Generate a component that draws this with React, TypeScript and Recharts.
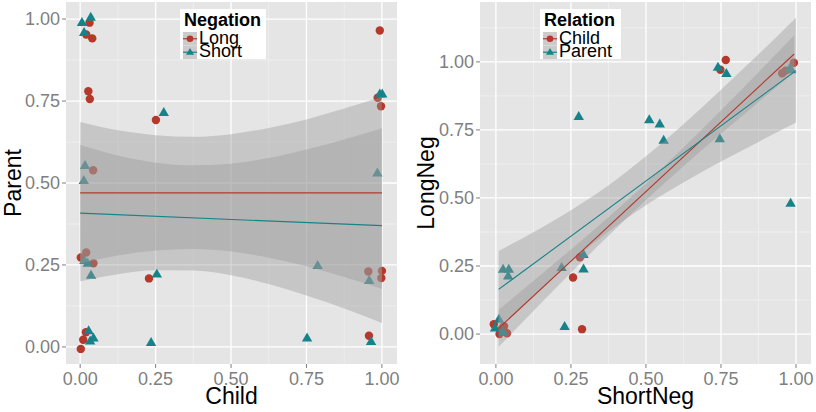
import React from "react";
import { ComposedChart, Scatter, Area, Line, XAxis, YAxis, CartesianGrid, Legend, Label } from "recharts";

const RED = "#B5382B";
const TEAL = "#16838A";
const FONT = "'Liberation Sans', Arial, sans-serif";

const majorTicks = [0, 0.25, 0.5, 0.75, 1];
const minorX = [0.125, 0.375, 0.625, 0.875];
const minorYLeft = [0.125, 0.375, 0.625, 0.875];
const minorYRight = [0.125, 0.375, 0.625, 0.875, 1.125];

// ---- left panel: Child vs Parent, coloured by Negation ----
const negationNames = ["Long", "Short"];

const longPoints = [
  [0.031, 0.989], [0.02, 0.953], [0.04, 0.941], [0.027, 0.78], [0.032, 0.756], [0.043, 0.539],
  [0.251, 0.692], [0.993, 0.965], [0.986, 0.76], [0.997, 0.734], [0.002, 0.273], [0.02, 0.288],
  [0.044, 0.255], [0.228, 0.209], [0.955, 0.23], [1.0, 0.232], [0.998, 0.21], [0.002, -0.006],
  [0.01, 0.022], [0.019, 0.045], [0.957, 0.034],
];
const shortPoints = [
  [0.006, 0.989], [0.035, 1.005], [0.013, 0.959], [0.016, 0.553], [0.012, 0.507], [0.277, 0.715],
  [0.993, 0.771], [1.001, 0.771], [0.985, 0.53], [0.014, 0.263], [0.025, 0.255], [0.036, 0.218],
  [0.254, 0.222], [0.787, 0.248], [0.958, 0.202], [0.028, 0.049], [0.033, 0.018], [0.044, 0.027],
  [0.235, 0.013], [0.752, 0.027], [0.964, 0.016],
];

// smoother output
const leftBandX = [0, 0.125, 0.25, 0.375, 0.5, 0.625, 0.75, 0.875, 1];
const longLow = [0.254, 0.279, 0.294, 0.299, 0.291, 0.272, 0.246, 0.213, 0.177];
const longHigh = [0.686, 0.661, 0.646, 0.641, 0.649, 0.668, 0.694, 0.727, 0.763];
const shortLow = [0.2, 0.222, 0.234, 0.233, 0.219, 0.192, 0.157, 0.117, 0.073];
const shortHigh = [0.616, 0.584, 0.562, 0.554, 0.559, 0.576, 0.602, 0.633, 0.667];
const longFit = [[0, 0.47], [1, 0.47]];
const shortFit = [[0, 0.408], [1, 0.37]];

// ---- right panel: ShortNeg vs LongNeg, coloured by Relation ----
const relationNames = ["Child", "Parent"];

const childPoints = [
  [0.748, 0.971], [0.766, 1.007], [0.954, 0.958], [0.966, 0.968], [0.993, 0.997], [0.28, 0.282],
  [0.257, 0.208], [0.287, 0.018], [-0.007, 0.036], [0.012, 0.0], [0.021, 0.021], [0.029, 0.009],
  [0.037, 0.003], [0.027, 0.029], [0.018, 0.008],
];
const parentPoints = [
  [0.276, 0.799], [0.511, 0.787], [0.546, 0.771], [0.559, 0.712], [0.74, 0.98], [0.768, 0.957],
  [0.746, 0.717], [0.979, 0.974], [0.984, 0.971], [0.982, 0.48], [0.024, 0.238], [0.043, 0.238],
  [0.041, 0.213], [0.219, 0.244], [0.292, 0.292], [0.292, 0.239], [0.229, 0.027], [-0.003, 0.022],
  [0.01, 0.054], [0.023, 0.008],
];

const childBandX = [0.009, 0.125, 0.25, 0.375, 0.5, 0.625, 0.75, 0.875, 0.994];
const childLow = [-0.047, 0.085, 0.225, 0.361, 0.493, 0.617, 0.736, 0.852, 0.961];
const childHigh = [0.089, 0.195, 0.311, 0.429, 0.553, 0.685, 0.822, 0.962, 1.097];
const parentBandX = [0.009, 0.125, 0.25, 0.375, 0.5, 0.625, 0.75, 0.875, 1];
const parentLow = [0.023, 0.142, 0.265, 0.376, 0.473, 0.557, 0.634, 0.706, 0.777];
const parentHigh = [0.305, 0.374, 0.455, 0.546, 0.653, 0.771, 0.898, 1.028, 1.162];
const childFit = [[0.009, 0.021], [0.994, 1.029]];
const parentFit = [[0.009, 0.164], [1, 0.968]];

const toPoints = (pairs: number[][]) => pairs.map(([x, y]) => ({ x, y }));
const toBand = (xs: number[], lo: number[], hi: number[]) => xs.map((x, i) => ({ x, band: [lo[i], hi[i]] }));

const dotShape = (color: string) => (p: any) => <circle cx={p.cx} cy={p.cy} r={4.2} fill={color} />;
const triShape = (color: string) => (p: any) => (
  <polygon
    points={`${p.cx},${p.cy - 5.6} ${p.cx - 5.2},${p.cy + 3.4} ${p.cx + 5.2},${p.cy + 3.4}`}
    fill={color}
  />
);

function KeyBox({ title, names }: { title: string; names: string[] }) {
  const w = title === "Negation" ? 86 : 81;
  return (
    <svg width={w} height={50} style={{ display: "block", fontFamily: FONT, overflow: "visible" }}>
      <rect x={0} y={0} width={w} height={50} fill="#ffffff" />
      <text x={4} y={17} fontSize={18} fontWeight="bold" fill="#000">{title}</text>
      {names.map((n, i) => {
        const top = 23 + i * 13.5;
        const cy = top + 6.75;
        const color = i === 0 ? RED : TEAL;
        return (
          <g key={n}>
            <rect x={3} y={top} width={14} height={13.5} fill="#CBCBCB" />
            <line x1={3} x2={17} y1={cy} y2={cy} stroke={color} strokeWidth={1.2} />
            {i === 0 ? (
              <circle cx={10} cy={cy} r={3.3} fill={color} />
            ) : (
              <polygon points={`10,${cy - 4.2} 6,${cy + 2.6} 14,${cy + 2.6}`} fill={color} />
            )}
            <text x={19} y={top + 11.5} fontSize={18} fill="#000">{n}</text>
          </g>
        );
      })}
    </svg>
  );
}

type PanelProps = {
  xDomain: number[];
  yDomain: number[];
  yMinor: number[];
  yAxisWidth: number;
  marginRight: number;
  xTitle: string;
  yTitle: string;
  yTitleX: number;
  pointsA: number[][];
  pointsB: number[][];
  bandA: { x: number; band: number[] }[];
  bandB: { x: number; band: number[] }[];
  fitA: number[][];
  fitB: number[][];
  legendTitle: string;
  legendNames: string[];
  legendLeft: number;
};

function Panel(p: PanelProps) {
  const tick = { fill: "#7F7F7F", fontSize: 18, fontFamily: FONT };
  return (
    <ComposedChart width={408} height={412} margin={{ top: 2, right: p.marginRight, bottom: 0, left: 0 }}>
      <CartesianGrid fill="#E5E5E5" stroke="#F2F2F2" strokeWidth={0.7} verticalValues={minorX} horizontalValues={p.yMinor} />
      <CartesianGrid stroke="#FFFFFF" strokeWidth={1.3} verticalValues={majorTicks} horizontalValues={majorTicks} />
      <XAxis
        type="number"
        dataKey="x"
        domain={p.xDomain}
        allowDataOverflow
        ticks={majorTicks}
        tickFormatter={(v: number) => v.toFixed(2)}
        axisLine={false}
        tickLine={{ stroke: "#7F7F7F" }}
        tickSize={4}
        tickMargin={4}
        height={48}
        tick={tick}
      >
        <Label
          content={({ viewBox }: any) => (
            <text x={viewBox.x + viewBox.width / 2} y={viewBox.y + 40} textAnchor="middle" fontSize={23} fontFamily={FONT} fill="#000">
              {p.xTitle}
            </text>
          )}
        />
      </XAxis>
      <YAxis
        type="number"
        dataKey="y"
        domain={p.yDomain}
        allowDataOverflow
        ticks={majorTicks}
        tickFormatter={(v: number) => v.toFixed(2)}
        axisLine={false}
        tickLine={{ stroke: "#7F7F7F" }}
        tickSize={4}
        tickMargin={2}
        width={p.yAxisWidth}
        tick={tick}
      >
        <Label
          content={({ viewBox }: any) => {
            const cx = viewBox.x + p.yTitleX;
            const cy = viewBox.y + viewBox.height / 2;
            return (
              <text x={cx} y={cy} transform={`rotate(-90 ${cx} ${cy})`} textAnchor="middle" fontSize={23} fontFamily={FONT} fill="#000">
                {p.yTitle}
              </text>
            );
          }}
        />
      </YAxis>
      <Legend
        layout="vertical"
        align="center"
        verticalAlign="middle"
        wrapperStyle={{ position: "absolute", top: 9, left: p.legendLeft, width: "auto", height: "auto" }}
        content={() => <KeyBox title={p.legendTitle} names={p.legendNames} />}
      />
      <Scatter data={toPoints(p.pointsA)} dataKey="y" shape={dotShape(RED)} isAnimationActive={false} zIndex={50} />
      <Scatter data={toPoints(p.pointsB)} dataKey="y" shape={triShape(TEAL)} isAnimationActive={false} zIndex={50} />
      <Area data={p.bandA} dataKey="band" type="monotone" stroke="none" fill="#999999" fillOpacity={0.4} isAnimationActive={false} />
      <Area data={p.bandB} dataKey="band" type="monotone" stroke="none" fill="#999999" fillOpacity={0.4} isAnimationActive={false} />
      <Line data={toPoints(p.fitA)} dataKey="y" stroke={RED} strokeWidth={1.1} dot={false} isAnimationActive={false} />
      <Line data={toPoints(p.fitB)} dataKey="y" stroke={TEAL} strokeWidth={1.1} dot={false} isAnimationActive={false} />
    </ComposedChart>
  );
}

export default function App() {
  return (
    <div style={{ position: "absolute", left: 0, top: 0, width: 816, height: 412, background: "#fff", display: "flex" }}>
      <Panel
        xDomain={[-0.047, 1.05]}
        yDomain={[-0.052, 1.052]}
        yMinor={minorYLeft}
        yAxisWidth={66}
        marginRight={11}
        xTitle="Child"
        yTitle="Parent"
        yTitleX={20.5}
        pointsA={longPoints}
        pointsB={shortPoints}
        bandA={toBand(leftBandX, longLow, longHigh)}
        bandB={toBand(leftBandX, shortLow, shortHigh)}
        fitA={longFit}
        fitB={shortFit}
        legendTitle="Negation"
        legendNames={negationNames}
        legendLeft={180}
      />
      <Panel
        xDomain={[-0.053, 1.05]}
        yDomain={[-0.11, 1.22]}
        yMinor={minorYRight}
        yAxisWidth={72}
        marginRight={5}
        xTitle="ShortNeg"
        yTitle="LongNeg"
        yTitleX={26}
        pointsA={childPoints}
        pointsB={parentPoints}
        bandA={toBand(childBandX, childLow, childHigh)}
        bandB={toBand(parentBandX, parentLow, parentHigh)}
        fitA={childFit}
        fitB={parentFit}
        legendTitle="Relation"
        legendNames={relationNames}
        legendLeft={132}
      />
    </div>
  );
}
